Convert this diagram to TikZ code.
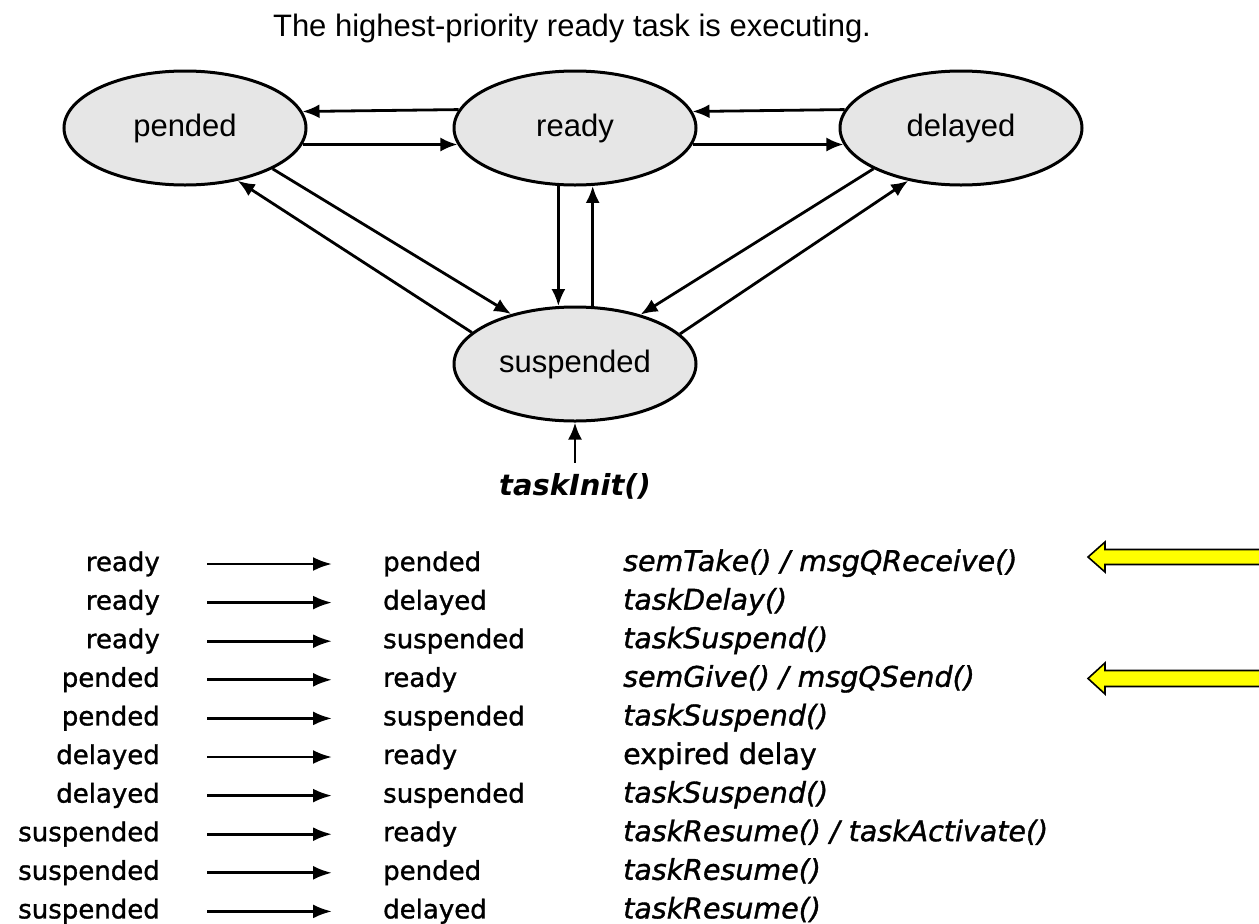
\documentclass[tikz,border=0pt]{standalone}
\usepackage{fontspec}
\setmainfont{Liberation Sans}
\newfontfamily\tabfont{DejaVu Sans}[BoldFont={DejaVu Sans Bold},ItalicFont={DejaVu Sans Oblique},BoldItalicFont={DejaVu Sans Bold Oblique},FakeBold=1.2]
\newfontfamily\tabfontbold{DejaVu Sans}[BoldFont={DejaVu Sans Bold},ItalicFont={DejaVu Sans Oblique},BoldItalicFont={DejaVu Sans Bold Oblique}]
\usetikzlibrary{arrows.meta,shapes.geometric}
\definecolor{statefill}{RGB}{230,230,230}
\definecolor{noteyellow}{RGB}{255,255,0}
\newcommand{\tabrow}[4]{%
  \pgfmathsetmacro{\rowy}{571+38.6*(#1-1)}%
  \node[fromcol] (f#1) at (160,\rowy) {#2};
  \node[tocol] (t#1) at (383,\rowy) {#3};
  \node[callcol] (c#1) at (623,\rowy) {#4};
  \draw[tabarrow] (f#1.east) -- (t#1.west);
}
\begin{document}
\begin{tikzpicture}[x=1pt,y=-1pt,
  state/.style={ellipse,draw,line width=3pt,fill=statefill,minimum width=242pt,minimum height=114pt,inner sep=0pt,font=\fontsize{31}{36}\selectfont},
  trans/.style={-{Latex[length=17pt,width=14pt]},line width=2.8pt},
  tabtext/.style={inner sep=0pt,text height=20pt,text depth=6pt,font=\tabfont\fontsize{26}{30}\selectfont},
  fromcol/.style={tabtext,anchor=base east},
  tocol/.style={tabtext,anchor=base west},
  callcol/.style={inner sep=0pt,anchor=base west,font=\tabfont\fontsize{28.5}{34}\selectfont\itshape},
  tabarrow/.style={-{Latex[length=19pt,width=14pt]},line width=2.8pt,shorten <=47pt,shorten >=51pt},
  note/.style={draw=black,line width=1.6pt,fill=noteyellow,line join=miter}
]
\useasboundingbox (0,0) rectangle (1259,924);

\node[font=\fontsize{31}{36}\selectfont,anchor=base] (title) at (572,36) {The highest-priority ready task is executing.};

\node[state] (pended) at (185,128) {\raisebox{-4pt}{pended}};
\node[state] (ready) at (575,128) {\raisebox{-4pt}{ready}};
\node[state] (delayed) at (961,128) {\raisebox{-4pt}{delayed}};
\node[state] (susp) at (575,364) {\raisebox{-4pt}{suspended}};

\draw[trans] (ready.171.09) -- (pended.8.91);
\draw[trans] (pended.-8.91) -- (ready.188.91);
\draw[trans] (delayed.171.09) -- (ready.8.91);
\draw[trans] (ready.-8.91) -- (delayed.188.91);
\draw[trans] (ready.-106.77) -- (susp.106.77);
\draw[trans] (susp.73.23) -- (ready.-73.23);
\draw[trans] (pended.-25.5) -- (susp.142.6);
\draw[trans] (susp.163.1) -- (pended.-45);
\draw[trans] (delayed.205.5) -- (susp.37.4);
\draw[trans] (susp.16.9) -- (delayed.225);

\node[inner sep=0pt,anchor=base,font=\tabfontbold\fontsize{29}{34}\selectfont\bfseries\itshape] (init) at (575,495) {taskInit()};
\draw[trans,shorten <=10pt] (init.north) -- (susp.south);

\tabrow{1}{ready}{pended}{semTake() / msgQReceive()}
\tabrow{2}{ready}{delayed}{taskDelay()}
\tabrow{3}{ready}{suspended}{taskSuspend()}
\tabrow{4}{pended}{ready}{semGive() / msgQSend()}
\tabrow{5}{pended}{suspended}{taskSuspend()}
\tabrow{6}{delayed}{ready}{\upshape expired delay}
\tabrow{7}{delayed}{suspended}{taskSuspend()}
\tabrow{8}{suspended}{ready}{taskResume() / taskActivate()}
\tabrow{9}{suspended}{pended}{taskResume()}
\tabrow{10}{suspended}{delayed}{taskResume()}

\draw[note] (1088,557) -- (1105,542) -- (1105,549.5) -- (1266,549.5) -- (1266,564.5) -- (1105,564.5) -- (1105,572) -- cycle;
\draw[note] (1088,678.5) -- (1105,663) -- (1105,670.5) -- (1266,670.5) -- (1266,686.5) -- (1105,686.5) -- (1105,694) -- cycle;
\end{tikzpicture}
\end{document}
